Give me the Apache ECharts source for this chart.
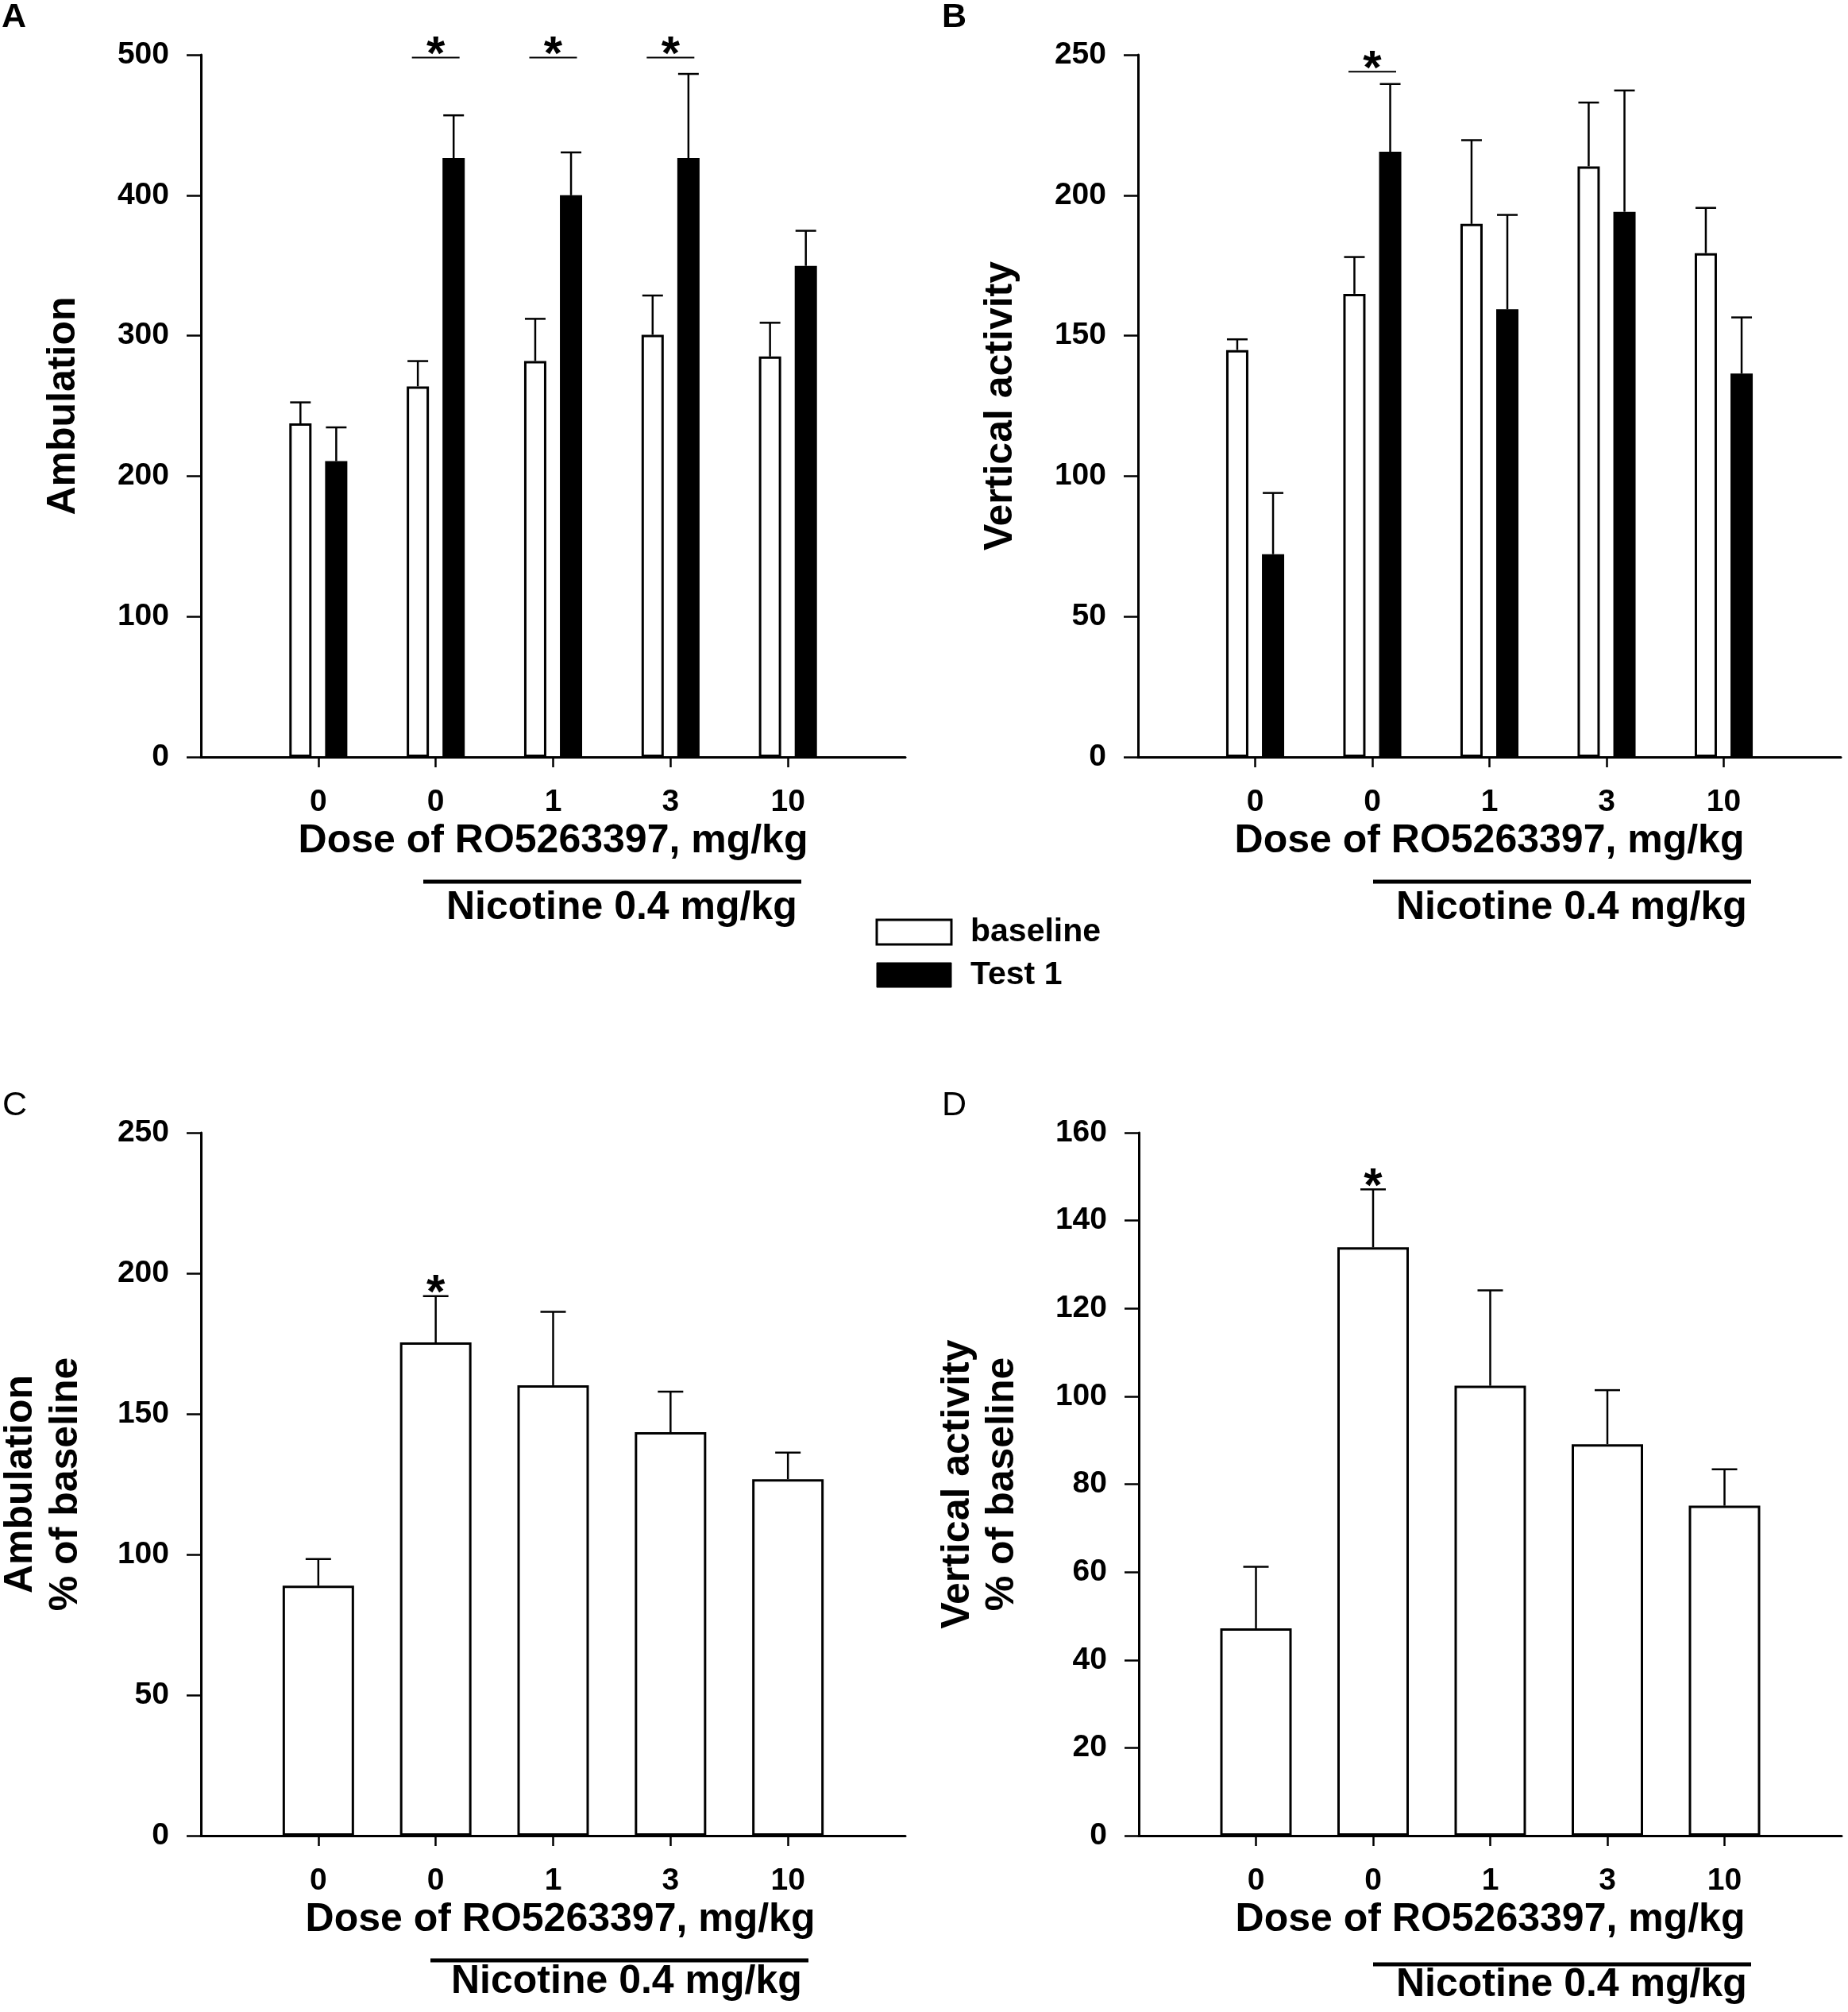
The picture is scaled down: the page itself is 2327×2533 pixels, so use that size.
<!DOCTYPE html>
<html><head><meta charset="utf-8">
<script src="https://cdn.jsdelivr.net/npm/echarts@6/dist/echarts.min.js"></script>
<style>html,body{margin:0;padding:0;background:#fff}#c{width:2327px;height:2533px}</style>
</head><body><div id="c"></div>
<script>
// ---------- data ----------
const doseLabels = ['0', '0', '1', '3', '10'];

const ambBaseline    = [237.5, 263.9, 282.0, 300.6, 285.2];
const ambBaselineSem = [15.0, 18.0, 30.0, 28.0, 24.0];
const ambTest        = [210.7, 426.4, 400.0, 426.4, 349.7];
const ambTestSem     = [24.0, 30.5, 30.5, 60.0, 25.0];

const vertBaseline    = [144.9, 164.9, 189.8, 210.3, 179.4];
const vertBaselineSem = [3.8, 13.1, 29.8, 22.7, 16.1];
const vertTest        = [72.2, 215.5, 159.4, 194.1, 136.5];
const vertTestSem     = [21.8, 24.1, 33.6, 43.2, 20.0];

const ambPct    = [88.9, 175.4, 160.2, 143.5, 126.8];
const ambPctSem = [9.5, 16.5, 26.1, 14.4, 9.4];
const vertPct    = [47.2, 133.9, 102.4, 89.1, 75.1];
const vertPctSem = [14.0, 13.2, 21.7, 12.3, 8.3];

const ambSig     = [0, 1, 1, 1, 0];
const vertSig    = [0, 1, 0, 0, 0];
const ambPctSig  = [0, 1, 0, 0, 0];
const vertPctSig = [0, 1, 0, 0, 0];
const ambSigLevel = 498;
const vertSigLevel = 244;

const ambTicks     = [0, 100, 200, 300, 400, 500];
const vertTicks    = [0, 50, 100, 150, 200, 250];
const ambPctTicks  = [0, 50, 100, 150, 200, 250];
const vertPctTicks = [0, 20, 40, 60, 80, 100, 120, 140, 160];

// ---------- styling / layout ----------
const FONT = '"Liberation Sans", Arial, sans-serif';
const BAR_W = 28, BAR_GAP = 0.61;
const PAIR_OFF = BAR_W * (1 + BAR_GAP) / 2;
const cats = [''].concat(doseLabels, ['']);
const pad = arr => ['-'].concat(arr, ['-']);

const grids = [
  {left: 253, top: 69, width: 887, height: 884},
  {left: 1433, top: 69, width: 885, height: 884},
  {left: 253, top: 1426, width: 887, height: 885},
  {left: 1434, top: 1426, width: 885, height: 885}
];

function xAxis(i, namePad) {
  return {
    type: 'category', gridIndex: i, data: cats, boundaryGap: false,
    name: 'Dose of RO5263397, mg/kg', nameLocation: 'middle', nameGap: 81,
    nameTextStyle: {fontFamily: FONT, fontWeight: 'bold', fontSize: 50, color: '#000', padding: namePad || 0},
    axisLine: {lineStyle: {color: '#000', width: 3}},
    axisTick: {length: 13, lineStyle: {color: '#000', width: 2.5},
      interval: (idx) => idx >= 1 && idx <= doseLabels.length},
    axisLabel: {interval: 0, margin: 38, fontFamily: FONT, fontWeight: 'bold', fontSize: 39, color: '#000'},
    splitLine: {show: false}
  };
}
function yAxis(i, ticks, name, gap, lh) {
  return {
    type: 'value', gridIndex: i, min: ticks[0], max: ticks[ticks.length - 1], interval: ticks[1] - ticks[0],
    name: name, nameLocation: 'middle', nameGap: gap,
    nameTextStyle: {fontFamily: FONT, fontWeight: 'bold', fontSize: 50, color: '#000', lineHeight: lh || 50},
    axisLine: {show: true, lineStyle: {color: '#000', width: 3}},
    axisTick: {show: true, length: 18, lineStyle: {color: '#000', width: 2.5}},
    axisLabel: {margin: 40, fontFamily: FONT, fontWeight: 'bold', fontSize: 39, color: '#000'},
    splitLine: {show: false}
  };
}

function barSeries(i, data, fill, withBorder, width, gap) {
  return {
    type: 'bar', xAxisIndex: i, yAxisIndex: i, data: pad(data),
    barWidth: width, barGap: gap, z: 2,
    itemStyle: {color: fill, borderColor: '#000', borderWidth: withBorder ? 3 : 0},
    emphasis: {disabled: true}, animation: false
  };
}

function errSeries(i, means, sems, offset, cap) {
  return {
    type: 'custom', xAxisIndex: i, yAxisIndex: i, z: 3, clip: false, animation: false,
    data: means.map((m, k) => [k + 1, m, m + sems[k]]),
    encode: {x: 0, y: [1, 2]},
    renderItem: (params, api) => {
      const p0 = api.coord([api.value(0), api.value(1)]);
      const p1 = api.coord([api.value(0), api.value(2)]);
      const cx = p0[0] + offset;
      return {type: 'group', children: [
        {type: 'line', shape: {x1: cx, y1: p0[1], x2: cx, y2: p1[1]}, style: {stroke: '#000', lineWidth: 2.5}},
        {type: 'line', shape: {x1: cx - cap, y1: p1[1], x2: cx + cap, y2: p1[1]}, style: {stroke: '#000', lineWidth: 2.5}}
      ]};
    }
  };
}

// significance bracket (line spanning the pair + star) at a fixed level
function sigLineSeries(i, sig, level) {
  const data = [];
  sig.forEach((s, k) => { if (s) data.push([k + 1, level]); });
  return {
    type: 'custom', xAxisIndex: i, yAxisIndex: i, z: 4, clip: false, animation: false,
    data: data,
    renderItem: (params, api) => {
      const p = api.coord([api.value(0), api.value(1)]);
      return {type: 'group', children: [
        {type: 'line', shape: {x1: p[0] - 30, y1: p[1], x2: p[0] + 30, y2: p[1]}, style: {stroke: '#000', lineWidth: 2}},
        {type: 'text', style: {text: '*', x: p[0], y: p[1] - 2, font: 'bold 60px ' + FONT,
          fill: '#000', align: 'center', verticalAlign: 'middle', textAlign: 'center', textVerticalAlign: 'middle'}}
      ]};
    }
  };
}
// star above the error bar
function sigStarSeries(i, sig, means, sems) {
  const data = [];
  sig.forEach((s, k) => { if (s) data.push([k + 1, means[k] + sems[k]]); });
  return {
    type: 'custom', xAxisIndex: i, yAxisIndex: i, z: 4, clip: false, animation: false,
    data: data,
    renderItem: (params, api) => {
      const p = api.coord([api.value(0), api.value(1)]);
      return {type: 'text', style: {text: '*', x: p[0], y: p[1] - 2, font: 'bold 60px ' + FONT,
        fill: '#000', align: 'center', verticalAlign: 'middle', textAlign: 'center', textVerticalAlign: 'middle'}};
    }
  };
}

function nicotine(x1, x2, ly, tx, ty) {
  return [
    {type: 'line', shape: {x1: x1, y1: ly, x2: x2, y2: ly}, style: {stroke: '#000', lineWidth: 5}},
    {type: 'text', x: tx, y: ty, style: {text: 'Nicotine 0.4 mg/kg', font: 'bold 50px ' + FONT, fill: '#000',
      align: 'left', verticalAlign: 'middle', textAlign: 'left', textVerticalAlign: 'middle'}}
  ];
}
function letter(t, x, y, bold) {
  return {type: 'text', x: x, y: y, style: {text: t, font: (bold ? 'bold ' : '') + '43px ' + FONT, fill: '#000',
    align: 'left', verticalAlign: 'top', textAlign: 'left', textVerticalAlign: 'top'}};
}

const graphic = [
  letter('A', 2, 1, true), letter('B', 1186, 1, true), letter('C', 3, 1371, false), letter('D', 1186, 1371, false)
].concat(
  nicotine(533, 1009, 1110, 562, 1143),
  nicotine(1729, 2205, 1110, 1758, 1143),
  nicotine(542, 1018, 2468, 568, 2495),
  nicotine(1729, 2205, 2473, 1758, 2499),
  [
    {type: 'rect', shape: {x: 1104, y: 1158, width: 94, height: 31}, style: {fill: '#fff', stroke: '#000', lineWidth: 3}},
    {type: 'rect', shape: {x: 1104, y: 1212, width: 94, height: 31}, style: {fill: '#000', stroke: '#000', lineWidth: 1}},
    {type: 'text', x: 1222, y: 1174, style: {text: 'baseline', font: 'bold 41px ' + FONT, fill: '#000',
      align: 'left', verticalAlign: 'middle', textAlign: 'left', textVerticalAlign: 'middle'}},
    {type: 'text', x: 1222, y: 1228, style: {text: 'Test 1', font: 'bold 41px ' + FONT, fill: '#000',
      align: 'left', verticalAlign: 'middle', textAlign: 'left', textVerticalAlign: 'middle'}}
  ]
);

const chart = echarts.init(document.getElementById('c'), null, {renderer: 'canvas'});
chart.setOption({
  backgroundColor: '#fff',
  animation: false,
  grid: grids.map(g => Object.assign({containLabel: false, outerBoundsMode: 'none'}, g)),
  xAxis: [xAxis(0), xAxis(1), xAxis(2, [0, 0, 0, 18]), xAxis(3)],
  yAxis: [
    yAxis(0, ambTicks, 'Ambulation', 148),
    yAxis(1, vertTicks, 'Vertical activity', 148),
    yAxis(2, ambPctTicks, 'Ambulation\n% of baseline', 141, 57),
    yAxis(3, vertPctTicks, 'Vertical activity\n% of baseline', 144, 56)
  ],
  series: [
    barSeries(0, ambBaseline, '#fff', true, BAR_W, (BAR_GAP * 100) + '%'),
    barSeries(0, ambTest, '#000', false, BAR_W, (BAR_GAP * 100) + '%'),
    errSeries(0, ambBaseline, ambBaselineSem, -PAIR_OFF, 13),
    errSeries(0, ambTest, ambTestSem, PAIR_OFF, 13),
    sigLineSeries(0, ambSig, ambSigLevel),

    barSeries(1, vertBaseline, '#fff', true, BAR_W, (BAR_GAP * 100) + '%'),
    barSeries(1, vertTest, '#000', false, BAR_W, (BAR_GAP * 100) + '%'),
    errSeries(1, vertBaseline, vertBaselineSem, -PAIR_OFF, 13),
    errSeries(1, vertTest, vertTestSem, PAIR_OFF, 13),
    sigLineSeries(1, vertSig, vertSigLevel),

    barSeries(2, ambPct, '#fff', true, 90, '0%'),
    errSeries(2, ambPct, ambPctSem, 0, 16),
    sigStarSeries(2, ambPctSig, ambPct, ambPctSem),

    barSeries(3, vertPct, '#fff', true, 90, '0%'),
    errSeries(3, vertPct, vertPctSem, 0, 16),
    sigStarSeries(3, vertPctSig, vertPct, vertPctSem)
  ],
  graphic: graphic
});
</script></body></html>
